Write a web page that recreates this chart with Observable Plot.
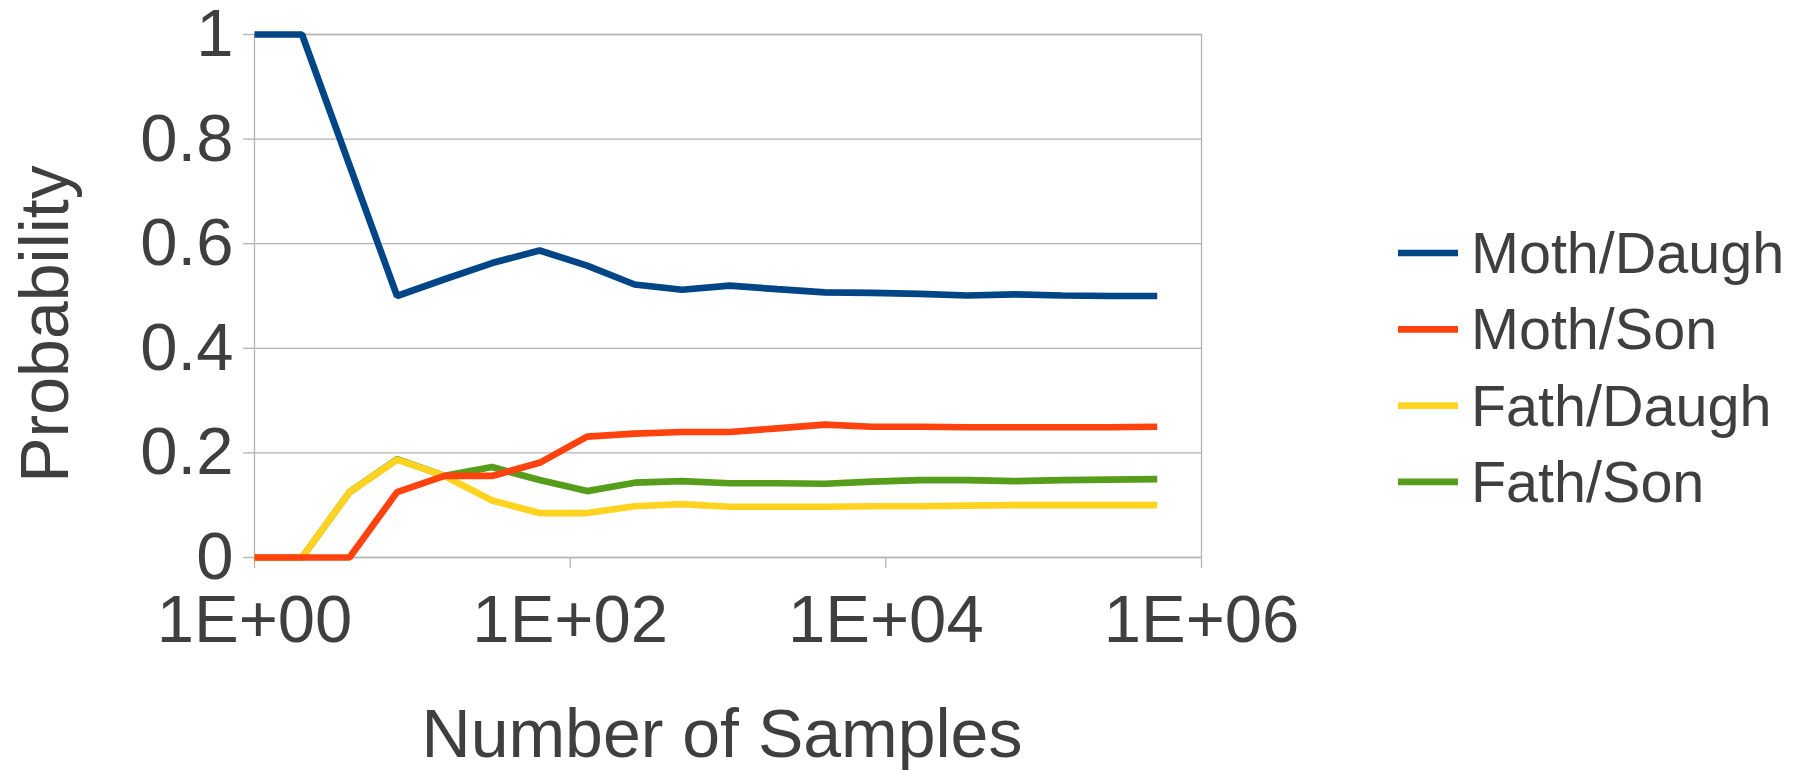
<!DOCTYPE html>
<html>
<head>
<meta charset="utf-8">
<script src="https://cdn.jsdelivr.net/npm/d3@7"></script>
<script src="https://cdn.jsdelivr.net/npm/@observablehq/plot@0.6"></script>
<style>
  html, body { margin: 0; padding: 0; background: #fff; }
  #chart svg { display: block; }
</style>
</head>
<body>
<div id="chart"></div>
<script>
const samples = [1, 2, 4, 8, 16, 32, 64, 128, 256, 512, 1024, 2048, 4096, 8192, 16384, 32768, 65536, 131072, 262144, 524288];
const mothDaugh = [1, 1, 0.75, 0.5, 0.532, 0.563, 0.587, 0.558, 0.522, 0.512, 0.520, 0.513, 0.507, 0.506, 0.504, 0.501, 0.503, 0.501, 0.500, 0.500];
const mothSon   = [0, 0, 0, 0.125, 0.156, 0.156, 0.181, 0.231, 0.237, 0.240, 0.240, 0.247, 0.254, 0.250, 0.250, 0.249, 0.249, 0.249, 0.249, 0.250];
const fathDaugh = [0, 0, 0.125, 0.187, 0.156, 0.109, 0.085, 0.085, 0.098, 0.102, 0.097, 0.097, 0.097, 0.098, 0.098, 0.099, 0.100, 0.100, 0.100, 0.100];
const fathSon   = [0, 0, 0.125, 0.188, 0.156, 0.173, 0.148, 0.127, 0.143, 0.146, 0.142, 0.142, 0.141, 0.145, 0.148, 0.148, 0.146, 0.148, 0.149, 0.150];

const seriesNames = ["Moth/Daugh", "Moth/Son", "Fath/Daugh", "Fath/Son"];
const seriesValues = [mothDaugh, mothSon, fathDaugh, fathSon];
const seriesColors = ["#004586", "#ff420e", "#ffd320", "#579d1c"];

const yTicks = [0, 0.2, 0.4, 0.6, 0.8, 1];
const xTicks = [1, 100, 10000, 1000000];
const xTickLabels = ["1E+00", "1E+02", "1E+04", "1E+06"];

const xTitle = "Number of Samples";
const yTitle = "Probability";

const rows = seriesNames.map((name, i) =>
  samples.map((n, j) => ({series: name, n, p: seriesValues[i][j]}))
);

const textColor = "#3f3f3f";
const gridColor = "#b3b3b3";
const font = "Liberation Sans, Arial, sans-serif";

const W = 1801, H = 770;
const mL = 254, mR = 600, mT = 34, mB = 213;
const lineW = 6.7;

// draw order: last series at the bottom, first series on top
const lineMarks = [3, 2, 1, 0].map(i =>
  Plot.line(rows[i], {
    x: "n", y: "p", stroke: "series",
    strokeWidth: lineW, strokeLinecap: "butt", strokeLinejoin: "miter"
  })
);

const chart = Plot.plot({
  width: W, height: H,
  marginLeft: mL, marginRight: mR, marginTop: mT, marginBottom: mB,
  style: {fontFamily: font, background: "#fff"},
  x: {type: "log", domain: [1, 1000000]},
  y: {domain: [0, 1]},
  color: {domain: seriesNames, range: seriesColors},
  marks: [
    Plot.ruleY(yTicks, {stroke: gridColor, strokeWidth: 1.3}),
    Plot.frame({stroke: gridColor, strokeWidth: 1.3}),
    Plot.axisY({
      ticks: yTicks, tickSize: 11, tickPadding: 10, fontSize: 67,
      stroke: gridColor, strokeWidth: 1.3, fill: textColor,
      tickFormat: d => String(+d.toFixed(1)), label: null
    }),
    Plot.axisX({
      ticks: xTicks, tickSize: 11, tickPadding: 26, fontSize: 67,
      stroke: gridColor, strokeWidth: 1.3, fill: textColor,
      tickFormat: d => xTickLabels[xTicks.indexOf(d)], label: null
    }),
    ...lineMarks
  ]
});

document.getElementById("chart").appendChild(chart);

const svg = d3.select(chart);
const color = chart.scale("color");

// axis titles
svg.append("text")
  .attr("transform", `translate(${44},${324}) rotate(-90)`)
  .attr("text-anchor", "middle").attr("dy", "0.35em")
  .attr("font-family", font).attr("font-size", 68).attr("fill", textColor)
  .text(yTitle);
svg.append("text")
  .attr("x", 722).attr("y", 733)
  .attr("text-anchor", "middle").attr("dy", "0.35em")
  .attr("font-family", font).attr("font-size", 68).attr("fill", textColor)
  .text(xTitle);

// legend
const lg = svg.append("g");
seriesNames.forEach((name, i) => {
  const y = 253 + i * 76.3;
  lg.append("line")
    .attr("x1", 1398).attr("x2", 1458).attr("y1", y).attr("y2", y)
    .attr("stroke", color.apply(name)).attr("stroke-width", lineW);
  lg.append("text")
    .attr("x", 1471).attr("y", y).attr("dy", "0.35em")
    .attr("text-anchor", "start")
    .attr("font-family", font).attr("font-size", 57.5).attr("fill", textColor)
    .text(name);
});
</script>
</body>
</html>
